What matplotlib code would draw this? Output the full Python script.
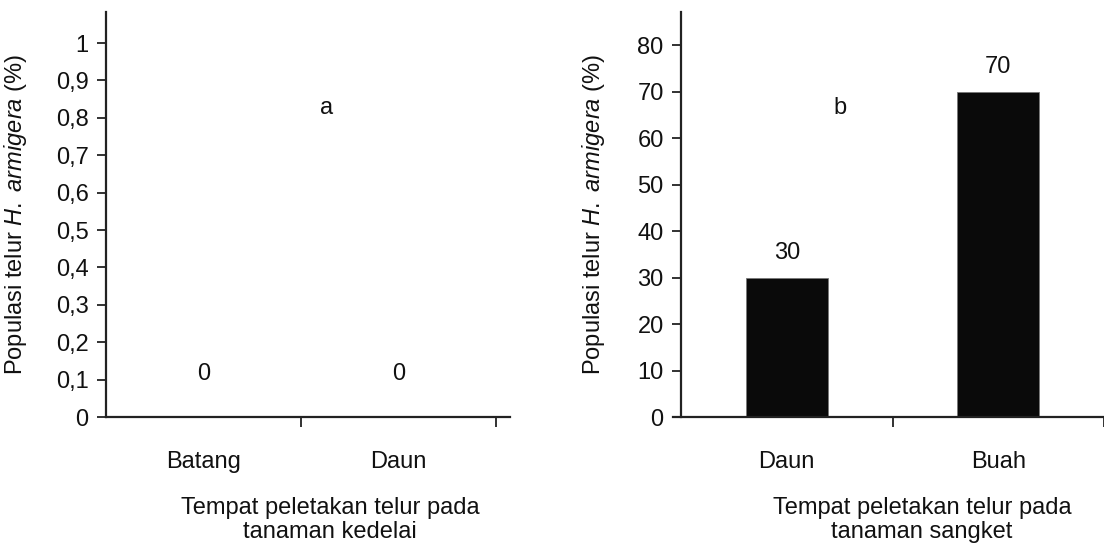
import matplotlib
matplotlib.use("Agg")
import matplotlib.pyplot as plt

plt.rcParams['font.family'] = 'Liberation Sans'
plt.rcParams['mathtext.fontset'] = 'custom'
plt.rcParams['mathtext.rm'] = 'Liberation Sans'
plt.rcParams['mathtext.it'] = 'Liberation Sans:italic'

# kedelai (soybean) - no eggs found
kedelai_parts = ['Batang', 'Daun']
kedelai_vals = [0, 0]
kedelai_ticks = [0, 0.1, 0.2, 0.3, 0.4, 0.5, 0.6, 0.7, 0.8, 0.9, 1]
kedelai_ticklabels = ['0', '0,1', '0,2', '0,3', '0,4', '0,5', '0,6', '0,7', '0,8', '0,9', '1']

# sangket
sangket_parts = ['Daun', 'Buah']
sangket_vals = [30, 70]
sangket_ticks = [0, 10, 20, 30, 40, 50, 60, 70, 80]

ylabel = r'Populasi telur $\it{H.}$ $\it{armigera}$ (%)'
txt = '#111111'
fs = 17

fig = plt.figure(figsize=(11.04, 5.44), dpi=100)
ax1 = fig.add_axes([106/1104, 127/544, 404/1104, 405/544])
ax2 = fig.add_axes([681/1104, 127/544, 423/1104, 405/544])

for ax in (ax1, ax2):
    for s in ['top', 'right']:
        ax.spines[s].set_visible(False)
    for s in ['left', 'bottom']:
        ax.spines[s].set_linewidth(1.6)
        ax.spines[s].set_color('#222222')
    ax.tick_params(axis='y', direction='out', length=6.5, width=1.3, pad=6,
                   colors='#222222', labelcolor=txt, labelsize=fs)
    ax.tick_params(axis='x', direction='out', length=7, width=1.3,
                   colors='#222222', labelsize=0)

# left panel
x1 = [i + 0.5 for i in range(len(kedelai_parts))]
ax1.bar(x1, kedelai_vals, width=0.4, color='#0a0a0a')
ax1.set_xlim(0, 2.07)
ax1.set_ylim(0, 1.083)
ax1.set_yticks(kedelai_ticks)
ax1.set_yticklabels(kedelai_ticklabels)
ax1.set_xticks([1, 2])
ax1.set_xticklabels([])
for xi, v in zip(x1, kedelai_vals):
    ax1.annotate(str(v), (xi, v), xytext=(0, 31), textcoords='offset points',
                 ha='center', va='center', fontsize=fs, color=txt)
for xi, name in zip(x1, kedelai_parts):
    ax1.text(xi, -0.111, name, ha='center', va='center', fontsize=fs, color=txt,
             transform=ax1.get_xaxis_transform())
ax1.text(1.13, 0.826, 'a', ha='center', va='center', fontsize=fs, color=txt)
ax1.set_ylabel(ylabel, fontsize=fs, color=txt)
ax1.yaxis.set_label_coords(-0.19, 0.5)
ax1.text(0.555, -0.254, 'Tempat peletakan telur pada\ntanaman kedelai', transform=ax1.transAxes,
         ha='center', va='center', fontsize=fs, color=txt, linespacing=1.1)

# right panel
x2 = [i + 0.5 for i in range(len(sangket_parts))]
ax2.bar(x2, sangket_vals, width=0.39, color='#0a0a0a', edgecolor='#777777', linewidth=0.6)
ax2.set_xlim(0, 2.0)
ax2.set_ylim(0, 87.1)
ax2.set_yticks(sangket_ticks)
ax2.set_xticks([1, 2])
ax2.set_xticklabels([])
ax2.spines['bottom'].set_bounds(-0.04, 2.0)
for xi, v in zip(x2, sangket_vals):
    ax2.annotate(str(v), (xi, v), xytext=(0, 18), textcoords='offset points',
                 ha='center', va='center', fontsize=fs, color=txt)
for xi, name in zip(x2, sangket_parts):
    ax2.text(xi, -0.111, name, ha='center', va='center', fontsize=fs, color=txt,
             transform=ax2.get_xaxis_transform())
ax2.text(0.75, 66.4, 'b', ha='center', va='center', fontsize=fs, color=txt)
ax2.set_ylabel(ylabel, fontsize=fs, color=txt)
ax2.yaxis.set_label_coords(-0.175, 0.5)
ax2.text(0.57, -0.254, 'Tempat peletakan telur pada\ntanaman sangket', transform=ax2.transAxes,
         ha='center', va='center', fontsize=fs, color=txt, linespacing=1.1)

fig.savefig('out.png', dpi=100)
